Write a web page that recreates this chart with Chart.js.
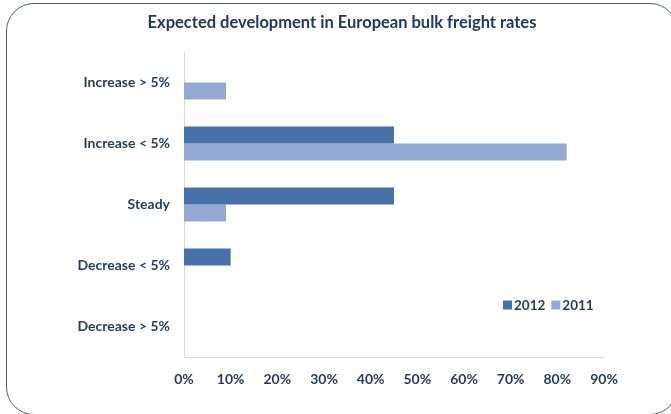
<!DOCTYPE html>
<html>
<head>
<meta charset="utf-8">
<script src="https://cdn.jsdelivr.net/npm/chart.js@4"></script>
<style>
  html, body { margin: 0; padding: 0; background: #ffffff; width: 671px; height: 414px; overflow: hidden; }
  #frame { position: absolute; left: 6px; top: 3px; width: 672px; height: 412px; border: 1.5px solid #4d5a6c; border-radius: 28px; box-sizing: border-box; }
  #wrap { position: absolute; left: 0; top: 0; width: 671px; height: 414px; }
</style>
</head>
<body>
<div id="frame"></div>
<div id="wrap"><canvas id="c" width="671" height="414"></canvas></div>
<script>
const categories = ['Increase > 5%', 'Increase < 5%', 'Steady', 'Decrease < 5%', 'Decrease > 5%'];
const values2012 = [0, 45, 45, 10, 0];
const values2011 = [9, 82, 9, 0, 0];
const seriesNames = ['2012', '2011'];
const xTicks = [0, 10, 20, 30, 40, 50, 60, 70, 80, 90];
const chartTitle = 'Expected development in European bulk freight rates';

const textColor = '#1f3b5e';
const fontFamily = 'Lato, "Open Sans", sans-serif';

const decorations = {
  id: 'decorations',
  afterDraw(chart) {
    const ctx = chart.ctx;
    ctx.save();
    // title
    ctx.font = 'bold 16.5px ' + fontFamily;
    ctx.fillStyle = '#1f3864';
    ctx.textAlign = 'center';
    ctx.textBaseline = 'middle';
    ctx.fillText(chartTitle, 342, 23);
    // legend
    ctx.textAlign = 'left';
    ctx.font = 'bold 13.5px ' + fontFamily;
    let x = 503;
    const y = 305;
    chart.data.datasets.forEach(ds => {
      ctx.fillStyle = ds.backgroundColor;
      ctx.fillRect(x, y - 4.5, 9, 9);
      x += 11;
      ctx.fillStyle = textColor;
      ctx.fillText(ds.label, x, y + 0.5);
      x += ctx.measureText(ds.label).width + 6;
    });
    ctx.restore();
  }
};

new Chart(document.getElementById('c'), {
  type: 'bar',
  data: {
    labels: categories,
    datasets: [
      { label: seriesNames[0], data: values2012, backgroundColor: '#4771a8' },
      { label: seriesNames[1], data: values2011, backgroundColor: '#93a8d3' }
    ]
  },
  options: {
    indexAxis: 'y',
    responsive: false,
    animation: false,
    devicePixelRatio: 1,
    layout: { padding: { top: 52, right: 67, bottom: 0, left: 0 } },
    datasets: { bar: { categoryPercentage: 0.56, barPercentage: 1.0 } },
    plugins: {
      legend: { display: false },
      tooltip: { enabled: false },
      title: { display: false }
    },
    scales: {
      x: {
        min: 0, max: 90,
        afterBuildTicks: s => { s.ticks = xTicks.map(v => ({ value: v })); },
        afterFit: s => { s.height = 57; },
        grid: { display: false, drawTicks: false },
        border: { display: true, color: '#d9d9d9', width: 1 },
        ticks: {
          padding: 14,
          color: textColor,
          font: { family: fontFamily, size: 14, weight: 'bold' },
          callback: v => v + '%',
          maxRotation: 0
        }
      },
      y: {
        afterFit: s => { s.width = 184; },
        grid: { display: false, drawTicks: false },
        border: { display: true, color: '#d9d9d9', width: 1 },
        ticks: {
          padding: 14,
          color: textColor,
          font: { family: fontFamily, size: 14, weight: 'bold' }
        }
      }
    }
  },
  plugins: [decorations]
});
</script>
</body>
</html>
